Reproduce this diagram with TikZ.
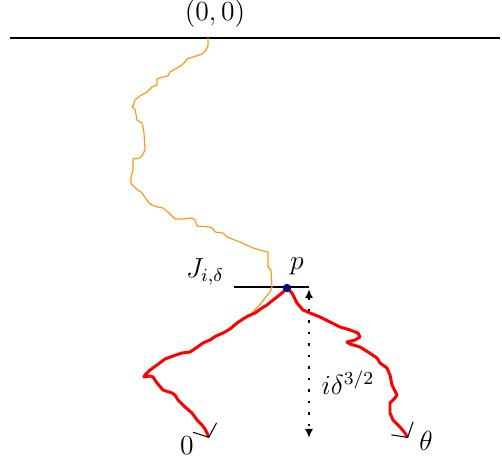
\documentclass[tikz,border=0pt]{standalone}
\usetikzlibrary{arrows.meta}
\definecolor{pathorange}{RGB}{255,150,20}
\definecolor{dotblue}{RGB}{0,0,140}
\begin{document}
\begin{tikzpicture}[x=0.01528cm,y=-0.01528cm,
 orangepath/.style={draw=pathorange, line width=0.5pt, line join=round},
 redpath/.style={draw=red, line width=1.3pt, line join=round,
   -{Straight Barb[color=black,line width=0.45pt,length=4.6pt,width=11pt]}},
 thinline/.style={draw=black, line width=0.45pt},
 heightarrow/.style={draw=black, line width=0.85pt, dash pattern=on 1pt off 4pt,
   {Latex[length=4pt,width=3.6pt]}-{Latex[length=4pt,width=3.6pt]}},
 lbl/.style={inner sep=0pt, font=\fontsize{12}{14}\selectfont}]
\useasboundingbox (0,0) rectangle (502,463);
% top boundary line
\coordinate (L) at (10,38);
\coordinate (R) at (500,38);
\coordinate (o) at (208,38);
\draw[thinline] (L) -- (R);
\node[lbl] (origin) at (215,14) {$(0,0)$};
% point p and the line J
\coordinate (p) at (287,288);
\coordinate (Ja) at (234,287);
\coordinate (Jb) at (309,287);
\draw[thinline] (Ja) -- (Jb);
% orange path
\draw[orangepath] (o) -- (208,46) -- (206,50) -- (202,54) -- (193,57) -- (187,59) -- (185,62)
 -- (182,65) -- (177,68) -- (170,72) -- (168,76) -- (163,77) -- (157,79) -- (157,85)
 -- (152,87) -- (147,92) -- (140,96) -- (135,100) -- (133,106) -- (132,107) -- (135,109)
 -- (137,120) -- (142,123) -- (143,127) -- (144,133) -- (145,150) -- (143,154) -- (140,158)
 -- (133,159) -- (133,170) -- (131,177) -- (131,183) -- (133,186) -- (142,193) -- (149,203)
 -- (152,205) -- (158,207) -- (163,208) -- (168,212) -- (172,216) -- (175,219) -- (182,219)
 -- (192,218) -- (195,220) -- (197,226) -- (210,227) -- (213,229) -- (215,232) -- (223,233)
 -- (227,237) -- (240,242) -- (253,248) -- (263,251) -- (268,252) -- (268,267) -- (271,270)
 -- (272,287) -- (270,292) -- (265,298) -- (262,302) -- (253,312) -- (250,317);
% red paths
\draw[redpath] (p) -- (282,293) -- (277,297) -- (273,300) -- (267,305) -- (262,308) -- (255,313)
 -- (248,316) -- (243,319) -- (237,323) -- (230,329) -- (223,333) -- (216,336) -- (210,340)
 -- (203,343) -- (196,348) -- (190,352) -- (182,353) -- (173,356) -- (165,359) -- (157,365)
 -- (150,370) -- (145,375) -- (144,377) -- (150,376) -- (153,377) -- (157,383) -- (163,390)
 -- (172,393) -- (175,395) -- (178,400) -- (185,407) -- (192,413) -- (197,420) -- (202,425)
 -- (205,429) -- (207,433) -- (209,438);
\draw[redpath] (p) -- (292,293) -- (297,303) -- (303,310) -- (310,313) -- (320,317) -- (330,322)
 -- (340,327) -- (350,330) -- (358,333) -- (360,337) -- (355,340) -- (347,342) -- (350,344)
 -- (360,347) -- (368,352) -- (377,358) -- (380,363) -- (387,368) -- (390,375) -- (392,385)
 -- (397,395) -- (395,398) -- (390,403) -- (390,413) -- (393,420) -- (400,427) -- (405,433)
 -- (408,438);
\fill[dotblue] (p) circle (1.8pt);
% height arrow
\coordinate (ht) at (309,289);
\coordinate (hb) at (309,438);
\draw[heightarrow] (ht) -- (hb);
% labels
\node[lbl] (plabel) at (297,266) {$p$};
\node[lbl] (Jlabel) at (205,272) {$J_{i,\delta}$};
\node[lbl] (hlabel) at (348,383) {$i\delta^{3/2}$};
\node[lbl] (thetalabel) at (426,441) {$\theta$};
\node[lbl] (zerolabel) at (187,446) {$0$};
\end{tikzpicture}
\end{document}
